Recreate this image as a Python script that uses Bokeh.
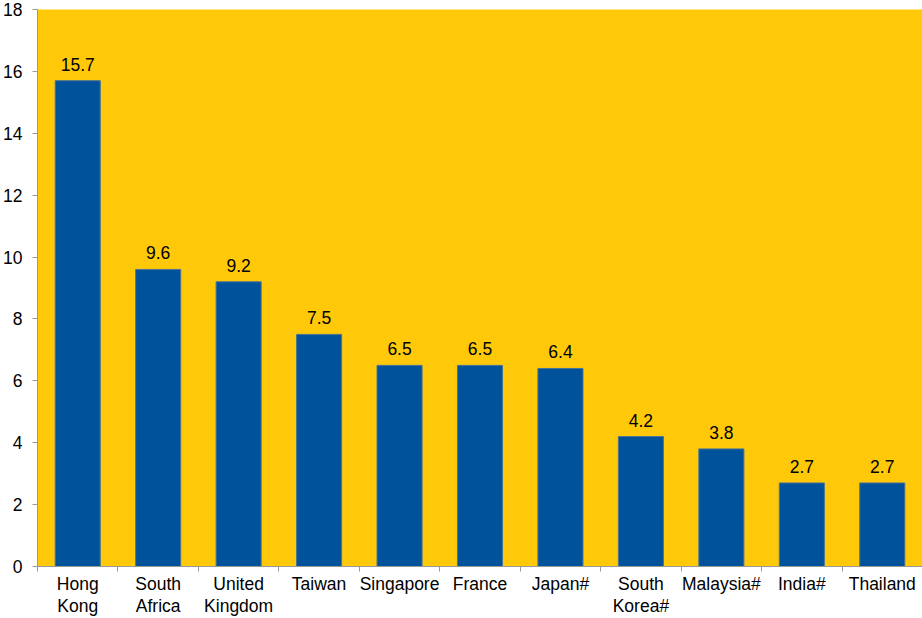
from bokeh.plotting import figure
from bokeh.models import ColumnDataSource, FixedTicker, Range1d
from bokeh.embed import file_html
from bokeh.resources import INLINE
from bokeh.core.properties import value

countries = ["Hong\nKong", "South\nAfrica", "United\nKingdom", "Taiwan", "Singapore",
             "France", "Japan#", "South\nKorea#", "Malaysia#", "India#", "Thailand"]
values = [15.7, 9.6, 9.2, 7.5, 6.5, 6.5, 6.4, 4.2, 3.8, 2.7, 2.7]
y_ticks = [0, 2, 4, 6, 8, 10, 12, 14, 16, 18]

n = len(countries)
xs = [i + 0.5 for i in range(n)]
src = ColumnDataSource(dict(x=xs, top=values, label=[f"{v:.1f}" for v in values]))

FONT = "Liberation Sans"
p = figure(width=922, height=618, output_backend="svg", toolbar_location=None,
           x_range=Range1d(0, n), y_range=Range1d(0, 18),
           min_border_left=36, min_border_top=9, min_border_right=0, min_border_bottom=51,
           background_fill_color="#FFC90A", border_fill_color="white",
           outline_line_color=None)

p.vbar(x="x", top="top", width=0.56, bottom=0, source=src,
       fill_color="#00529B", line_color="#4a7396", line_width=1)
p.text(x="x", y="top", text="label", source=src, text_align="center",
       text_baseline="bottom", y_offset=-10, text_font=value(FONT),
       text_font_size="17.5px", text_color="black")

p.grid.visible = False

p.xaxis.ticker = FixedTicker(ticks=xs, minor_ticks=list(range(n + 1)))
p.xaxis.major_label_overrides = {x: c for x, c in zip(xs, countries)}
p.xaxis.major_tick_out = 0
p.xaxis.major_tick_in = 0
p.xaxis.minor_tick_out = 5
p.xaxis.minor_tick_in = 0
p.xaxis.minor_tick_line_color = "#999999"
p.xaxis.axis_line_color = "#999999"
p.xaxis.major_label_text_font = FONT
p.xaxis.major_label_text_font_size = "17.5px"
p.xaxis.major_label_text_line_height = 1.1
p.xaxis.major_label_text_color = "black"
p.xaxis.major_label_standoff = 2

p.yaxis.ticker = FixedTicker(ticks=y_ticks)
p.yaxis.minor_tick_line_color = None
p.yaxis.major_tick_out = 5
p.yaxis.major_tick_in = 0
p.yaxis.major_tick_line_color = "#999999"
p.yaxis.axis_line_color = "#999999"
p.yaxis.major_label_text_font = FONT
p.yaxis.major_label_text_font_size = "17.5px"
p.yaxis.major_label_text_color = "black"
p.yaxis.major_label_standoff = 10

open("out.html", "w").write(file_html(p, INLINE))
